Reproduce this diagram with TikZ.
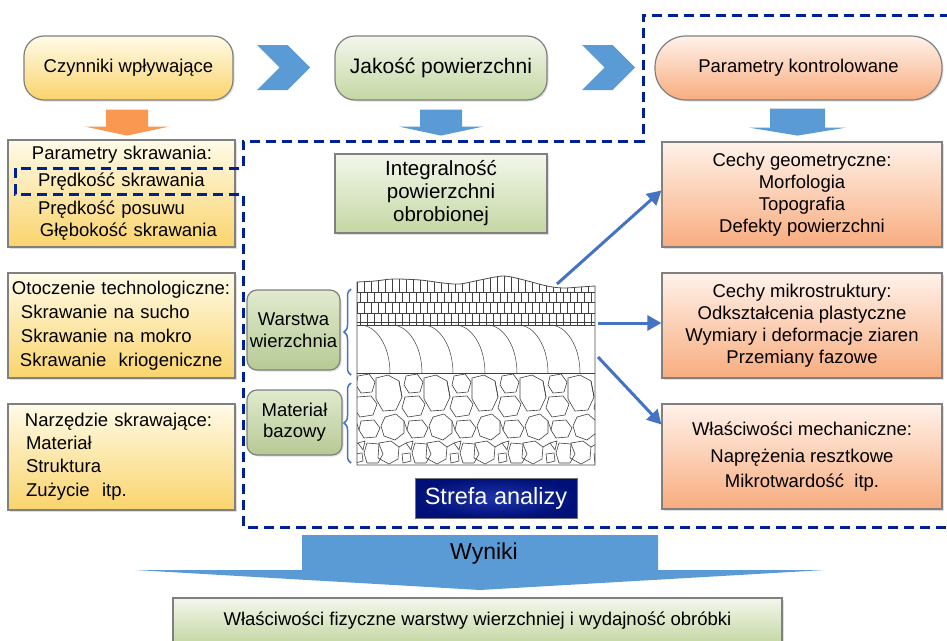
\documentclass[tikz,border=0pt]{standalone}
\usepackage{fontspec}
\setmainfont{Liberation Sans}
\usetikzlibrary{arrows.meta,positioning,shapes.symbols,calc,shadows,decorations.pathreplacing}
\definecolor{ZoltyJasny}{RGB}{255,251,232}
\definecolor{Zolty}{RGB}{250,212,108}
\definecolor{ZielonyJasny}{RGB}{243,247,236}
\definecolor{Zielony}{RGB}{196,215,162}
\definecolor{ZielonyCiemny}{RGB}{182,202,148}
\definecolor{LososJasny}{RGB}{255,242,234}
\definecolor{Losos}{RGB}{248,172,126}
\definecolor{Niebieski}{RGB}{91,155,213}
\definecolor{Pomarancz}{RGB}{250,152,82}
\definecolor{Granat}{RGB}{0,32,150}
\definecolor{GranatJasny}{RGB}{30,52,170}
\definecolor{GranatCiemny}{RGB}{0,16,120}
\definecolor{Strzalka}{RGB}{68,114,196}
\definecolor{Ramka}{RGB}{128,128,128}

\begin{document}
\begin{tikzpicture}[
    x=1pt, y=-1pt,
    font=\fontsize{18.5}{22}\selectfont,
    box/.style={draw=Ramka, line width=1.2pt, inner sep=0pt,
      drop shadow={opacity=0.25, shadow xshift=1.5pt, shadow yshift=-1.5pt}},
    pill/.style={box, rounded corners=20pt, minimum height=64pt},
    lewy/.style={box, top color=ZoltyJasny, bottom color=Zolty, text width=227pt, align=left, minimum height=106pt},
    prawy/.style={box, top color=LososJasny, bottom color=Losos, minimum width=280pt, minimum height=105pt, align=center},
    zielony/.style={box, top color=ZielonyJasny, bottom color=Zielony, align=center},
    szewron/.style={signal, signal from=west, signal to=east, signal pointer angle=90,
      fill=Niebieski, minimum width=53pt, minimum height=45pt, inner sep=0pt},
    cienka/.style={-{Triangle[length=14pt, width=15pt]}, line width=3pt, draw=Strzalka},
    klamra/.style={decorate, decoration={brace, amplitude=7pt}, draw=Strzalka, line width=1.5pt},
    granica/.style={draw=Granat, line width=3pt, dash pattern=on 10pt off 6pt},
    cegla/.style={draw=black!75, line width=0.5pt},
    ziarno/.style={draw=black!75, line width=0.6pt}
  ]
  \useasboundingbox (0,0) rectangle (947,640);

  % gorny rzad
  \node[pill, top color=ZoltyJasny, bottom color=Zolty, minimum width=209pt] (czynniki) at (128.5,68) {Czynniki wpływające};
  \node[pill, top color=ZielonyJasny, bottom color=Zielony, minimum width=212pt, font=\fontsize{21}{24}\selectfont] (jakosc) at (441,68) {Jakość powierzchni};
  \node[pill, rounded corners=31pt, top color=LososJasny, bottom color=Losos, minimum width=287pt] (kontrola) at (798.5,68) {Parametry kontrolowane};
  \node[szewron] (sz1) at (283.5,67.5) {};
  \node[szewron] (sz2) at (608.5,67.5) {};

  % strzalki w dol
  \fill[Pomarancz] ([xshift=-1.5pt, yshift=-9pt]czynniki.south) ++(-21,0) -- ++(42,0) -- ++(0,17) -- ++(21,0) -- ++(-42,9) -- ++(-42,-9) -- ++(21,0) -- cycle;
  \fill[Niebieski] ([yshift=-9pt]jakosc.south) ++(-21,0) -- ++(42,0) -- ++(0,17) -- ++(21,0) -- ++(-42,9) -- ++(-42,-9) -- ++(21,0) -- cycle;
  \fill[Niebieski] ([xshift=-1pt, yshift=-8pt]kontrola.south) ++(-27.5,0) -- ++(55,0) -- ++(0,19) -- ++(21,0) -- ++(-48.5,8) -- ++(-48.5,-8) -- ++(21,0) -- cycle;

  % lewa kolumna
  \node[lewy, minimum height=107pt] (param) at (121.5,193.5) {\hspace*{24pt}Parametry skrawania:\\[5pt]
    \hspace*{30pt}Prędkość skrawania\\[6pt]
    \hspace*{30pt}Prędkość posuwu\\
    \hspace*{32pt}Głębokość skrawania};
  \node[lewy, minimum height=105pt] (otocz) at (121.5,325.5) {\hspace*{4pt}Otoczenie technologiczne:\\[2pt]
    \hspace*{13pt}Skrawanie na sucho\\[2pt]
    \hspace*{13pt}Skrawanie na mokro\\[2pt]
    \hspace*{12pt}Skrawanie\ \ kriogeniczne};
  \node[lewy] (narz) at (121.5,457) {\hspace*{17pt}Narzędzie skrawające:\\[1pt]
    \hspace*{18pt}Materiał\\[1pt]
    \hspace*{18pt}Struktura\\[2pt]
    \hspace*{18pt}Zużycie\ \ itp.};

  % srodek
  \node[zielony, minimum width=212pt, minimum height=79pt, font=\fontsize{20.5}{23}\selectfont] (integr) at (441,193.5) {Integralność\\powierzchni\\obrobionej};
  \node[zielony, rounded corners=10pt, top color=ZielonyJasny!60!Zielony, bottom color=ZielonyCiemny, minimum width=93pt, minimum height=80pt] (warstwa) at (293.5,330) {Warstwa\\wierzchnia};
  \node[zielony, rounded corners=10pt, top color=ZielonyJasny!60!Zielony, bottom color=ZielonyCiemny, minimum width=95pt, minimum height=65pt, font=\fontsize{18.5}{21}\selectfont] (bazowy) at (294.5,422.5) {Materiał\\bazowy};

  % prawa kolumna
  \node[prawy] (geom) at (802,194.5) {Cechy geometryczne:\\Morfologia\\Topografia\\Defekty powierzchni};
  \node[prawy] (mikro) at (802,325.5) {Cechy mikrostruktury:\\Odkształcenia plastyczne\\Wymiary i deformacje ziaren\\Przemiany fazowe};
  \node[prawy] (mech) at (802,456.5) {Właściwości mechaniczne:\\[5pt]Naprężenia resztkowe\\[3pt]Mikrotwardość\ \ itp.};

  % przekroj warstwy: cegielki pod powierzchnia
  \def\powierzchnia{plot[smooth] coordinates {(357,282) (375,281) (393,279) (420,280) (443,283) (460,284) (480,280) (503,276) (520,279) (547,286) (563,288) (580,287) (595,286)}}
  \begin{scope}
    \clip \powierzchnia -- (595,325) -- (357,325) -- cycle;
    \foreach \ya/\yb/\o in {268/292/0, 292/302/3.5, 302/313/0, 313/325/3.5}{
      \foreach \k in {0,...,34}{
        \draw[cegla] ({357+\o+7*\k},\ya) -- ({357+\o+7*\k},\yb);
      }
    }
    \foreach \y in {292,302,313}{
      \draw[cegla] (357,\y) -- (595,\y);
    }
  \end{scope}
  \draw[cegla] (357,322) -- (595,322);
  \draw[cegla] (357,325) -- (595,325);
  \draw[cegla] (357,373) -- (595,373);
  \foreach \xa in {360,392,423,455,487,518,550}{
    \draw[cegla] (\xa,325) arc[start angle=-90, end angle=0, x radius=30, y radius=48];
  }

  % ziarna materialu bazowego
  \begin{scope}
    \clip (357,373) rectangle (595,465);
    \foreach \i in {0,...,5}{
      \begin{scope}[shift={({333+48*\i},373)}]
        \draw[ziarno] (-5,5) -- (7,2) -- (18,8) -- (21,24) -- (15,37) -- (2,38) -- (-5,26) -- cycle;
        \draw[ziarno] (25,3) -- (36,1) -- (42,9) -- (39,19) -- (28,20) -- (23,12) -- cycle;
        \draw[ziarno] (24,24) -- (38,23) -- (44,31) -- (40,42) -- (27,44) -- (21,35) -- cycle;
        \draw[ziarno] (4,44) -- (15,41) -- (23,48) -- (23,60) -- (14,67) -- (3,63) -- (0,53) -- cycle;
        \draw[ziarno] (28,48) -- (41,47) -- (47,55) -- (43,64) -- (31,65) -- (26,57) -- cycle;
        \draw[ziarno] (-2,70) -- (10,68) -- (18,74) -- (17,86) -- (8,91) -- (-3,85) -- cycle;
        \draw[ziarno] (25,70) -- (32,68) -- (30,77) -- cycle;
        \draw[ziarno] (34,70) -- (46,71) -- (50,81) -- (45,90) -- (34,90) -- (31,80) -- cycle;
        \draw[ziarno] (21,81) -- (29,80) -- (30,88) -- (22,90) -- cycle;
        \draw[ziarno] (21,24) -- (18,8);
        \draw[ziarno] (23,48) -- (26,57);
        \draw[ziarno] (18,74) -- (25,70);
      \end{scope}
    }
  \end{scope}
  \draw[draw=black!70, line width=0.8pt] \powierzchnia -- (595,465) -- (357,465) -- cycle;

  \node[draw=black!55, line width=1pt, inner color=GranatJasny, outer color=GranatCiemny, minimum width=162pt, minimum height=40pt, text=white, font=\fontsize{23.5}{26}\selectfont] (strefa) at (496,498) {Strefa analizy};

  % klamry
  \draw[klamra] (351,375) -- (351,289);
  \draw[klamra] (351,463) -- (351,383);

  % strzalki do cech
  \coordinate (szczyt) at (557,284);
  \coordinate (srodek) at (598,323);
  \coordinate (spod) at (598,357);
  \draw[cienka] (szczyt) -- ([yshift=4pt]geom.west);
  \draw[cienka] (srodek) -- (mikro.west |- srodek);
  \draw[cienka] (spod) -- ([yshift=32pt]mech.west);

  % obszar przerywany
  \draw[granica] (950,15) -- (643,15) -- (643,141) -- (243,141) -- (243,168) -- (15,168) -- (15,194) -- (243,194) -- (243,527) -- (950,527);

  % wyniki
  \fill[Niebieski] (302,535) -- (658,535) -- (658,570) -- (825,570) -- (480,590) -- (135,570) -- (302,570) -- cycle;
  \node[font=\fontsize{23}{26}\selectfont] (wyniki) at (484,554) {Wyniki};
  \node[box, top color=ZielonyJasny, bottom color=Zielony, minimum width=609pt, minimum height=46pt] (wlasc) at (477.5,621) {Właściwości fizyczne warstwy wierzchniej i wydajność obróbki};
\end{tikzpicture}
\end{document}
